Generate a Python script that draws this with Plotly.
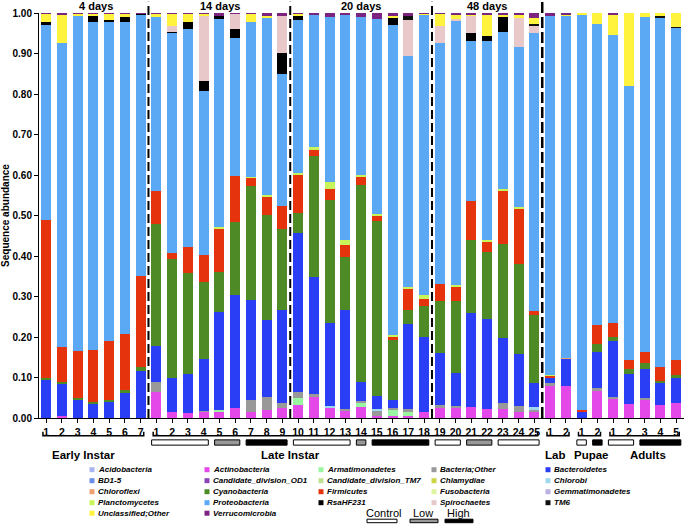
import plotly.graph_objects as go

# sample labels (41 bars): early instar 1-7, late instar 1-25, lab 1-2, pupae 1-2, adults 1-5
tick_labels = [str(i) for i in range(1, 8)] + [str(i) for i in range(1, 26)] + \
    ['1', '2', '1', '2'] + [str(i) for i in range(1, 6)]

# segment sizes per phylum
actino = [0, 0.004, 0, 0, 0, 0, 0,
          0.063, 0.014, 0.012, 0.016, 0.016, 0.025, 0.014, 0.02, 0.025,
          0.033, 0.052, 0.027, 0.019, 0.027, 0.004, 0.004, 0.005, 0.016,
          0.025, 0.025, 0.027, 0.022, 0.022, 0.016, 0.016,
          0.08, 0.08, 0, 0.067, 0.049, 0.035, 0.045, 0.033, 0.037]
armat = [0, 0, 0, 0, 0, 0, 0,
         0, 0, 0, 0, 0.005, 0, 0, 0, 0,
         0.016, 0, 0, 0, 0.011, 0, 0.016, 0.011, 0,
         0, 0, 0, 0, 0, 0, 0,
         0, 0, 0, 0, 0, 0, 0, 0, 0]
bac_other = [0, 0, 0, 0, 0, 0, 0,
             0.025, 0, 0, 0.002, 0, 0, 0.031, 0.031, 0.012,
             0.014, 0.008, 0, 0.003, 0.003, 0.015, 0.005, 0.006, 0,
             0.006, 0.004, 0, 0, 0.015, 0.014, 0.006,
             0.006, 0, 0, 0.007, 0.004, 0, 0.004, 0, 0]
chlorobi = [0, 0, 0, 0, 0, 0, 0,
            0, 0, 0, 0, 0, 0, 0, 0, 0,
            0, 0, 0.003, 0, 0, 0.004, 0, 0, 0,
            0, 0, 0, 0, 0, 0, 0.004,
            0, 0, 0, 0, 0, 0, 0, 0, 0]
bacteroid = [0.095, 0.082, 0.046, 0.037, 0.041, 0.064, 0.116,
             0.091, 0.086, 0.096, 0.128, 0.24, 0.279, 0.247, 0.192, 0.229,
             0.394, 0.288, 0.205, 0.244, 0.049, 0.032, 0.02, 0.211, 0.185,
             0.129, 0.082, 0.232, 0.222, 0.16, 0.129, 0.06,
             0.013, 0.066, 0.016, 0.09, 0.136, 0.074, 0.072, 0.053, 0.062]
cyano = [0.003, 0.004, 0.004, 0.003, 0.004, 0.004, 0.009,
         0.3, 0.293, 0.249, 0.189, 0.099, 0.18, 0.28, 0.258, 0.201,
         0.049, 0.298, 0.304, 0.132, 0.486, 0.432, 0.148, 0.034, 0.076,
         0.128, 0.177, 0.181, 0.166, 0.233, 0.222, 0.169,
         0, 0, 0, 0.019, 0.011, 0.012, 0.015, 0.006, 0.008]
firmic = [0.39, 0.085, 0.116, 0.129, 0.145, 0.139, 0.225,
          0.081, 0.014, 0.065, 0.067, 0.107, 0.113, 0.021, 0.045, 0.057,
          0.095, 0.018, 0.026, 0.03, 0.019, 0.011, 0.008, 0.052, 0.018,
          0.044, 0.037, 0.095, 0.024, 0.131, 0.135, 0.008,
          0.005, 0, 0.004, 0.047, 0.035, 0.021, 0.028, 0.033, 0.037]
chloroflexi = [0] * 33 + [0.003] + [0] * 7
plancto = [0, 0, 0, 0, 0, 0, 0,
           0, 0, 0, 0, 0.004, 0, 0.003, 0.004, 0,
           0.004, 0.004, 0.017, 0.011, 0.005, 0.005, 0.004, 0.004, 0.008,
           0, 0.004, 0, 0.005, 0.004, 0.005, 0,
           0.003, 0, 0, 0, 0, 0, 0, 0, 0]
proteo = [0.483, 0.752, 0.829, 0.809, 0.789, 0.771, 0.646,
          0.43, 0.544, 0.538, 0.406, 0.514, 0.341, 0.383, 0.44, 0.326,
          0.377, 0.326, 0.408, 0.555, 0.389, 0.483, 0.766, 0.57, 0.693,
          0.595, 0.652, 0.395, 0.493, 0.388, 0.395, 0.688,
          0.886, 0.845, 0.974, 0.744, 0.711, 0.678, 0.826, 0.865, 0.819]
rsa = [0.006, 0, 0, 0.014, 0.004, 0.012, 0.002,
       0, 0.003, 0.017, 0.023, 0.008, 0.022, 0, 0, 0.051,
       0.013, 0, 0, 0, 0, 0, 0.017, 0, 0,
       0, 0, 0.021, 0.01, 0.039, 0, 0,
       0, 0, 0, 0, 0, 0, 0, 0, 0]
spiro = [0, 0, 0, 0, 0, 0, 0,
         0, 0.015, 0, 0.161, 0, 0.038, 0, 0, 0.091,
         0, 0, 0, 0, 0, 0, 0, 0.089, 0,
         0.042, 0.004, 0.042, 0, 0, 0.074, 0.018,
         0, 0, 0, 0, 0, 0, 0, 0, 0]
tm6 = [0, 0, 0, 0, 0, 0, 0,
       0, 0, 0, 0, 0, 0, 0, 0, 0,
       0, 0, 0, 0, 0, 0, 0, 0.011, 0,
       0, 0, 0, 0, 0, 0, 0.003,
       0, 0, 0, 0, 0, 0, 0, 0.003, 0.003]
unclass = [0.021, 0.068, 0.003, 0.006, 0.015, 0.008, 0,
           0.008, 0.029, 0.021, 0.006, 0, 0, 0.019, 0.003, 0,
           0.003, 0, 0, 0, 0, 0, 0.004, 0, 0.003,
           0.029, 0.01, 0.004, 0.052, 0.002, 0.004, 0.016,
           0, 0.002, 0.006, 0.026, 0.05, 0.18, 0.01, 0.007, 0.034]
verruco = [0.002, 0.005, 0.002, 0.002, 0.002, 0.002, 0.002,
           0.002, 0.002, 0.002, 0.002, 0.007, 0.002, 0.002, 0.007, 0.008,
           0.002, 0.006, 0.01, 0.006, 0.011, 0.014, 0.008, 0.007, 0.001,
           0.002, 0.005, 0.003, 0.006, 0.006, 0.006, 0.012,
           0.007, 0.004, 0, 0, 0.004, 0, 0, 0, 0]

colors = {
    'Acidobacteria': '#aab4f0', 'Actinobacteria': '#e548e8', 'Armatimonadetes': '#99f5a0',
    'Bacteria;Other': '#999999', 'Bacteroidetes': '#2a3ef5', 'BD1-5': '#6a8ee8',
    'Candidate_division_OD1': '#8b45b5', 'Candidate_division_TM7': '#bfe090',
    'Chlamydiae': '#ccd44a', 'Chlorobi': '#9ed8ee', 'Chloroflexi': '#eda070',
    'Cyanobacteria': '#4e8b27', 'Firmicutes': '#e5330e', 'Fusobacteria': '#e0f5a0',
    'Gemmatimonadetes': '#bbb0e0', 'Planctomycetes': '#c8f55a', 'Proteobacteria': '#5ba9f5',
    'RsaHF231': '#000000', 'Spirochaetes': '#e8c8c8', 'TM6': '#111111',
    'Unclassified;Other': '#fff33d', 'Verrucomicrobia': '#7b2580',
}

# stacking order, bottom to top
stack = [('Actinobacteria', actino), ('Armatimonadetes', armat), ('Bacteria;Other', bac_other),
         ('Chlorobi', chlorobi), ('Bacteroidetes', bacteroid), ('Cyanobacteria', cyano),
         ('Firmicutes', firmic), ('Chloroflexi', chloroflexi), ('Planctomycetes', plancto),
         ('Proteobacteria', proteo), ('RsaHF231', rsa), ('Spirochaetes', spiro), ('TM6', tm6),
         ('Unclassified;Other', unclass), ('Verrucomicrobia', verruco)]

legend_names = ['Acidobacteria', 'Actinobacteria', 'Armatimonadetes', 'Bacteria;Other', 'Bacteroidetes',
                'BD1-5', 'Candidate_division_OD1', 'Candidate_division_TM7', 'Chlamydiae', 'Chlorobi',
                'Chloroflexi', 'Cyanobacteria', 'Firmicutes', 'Fusobacteria', 'Gemmatimonadetes',
                'Planctomycetes', 'Proteobacteria', 'RsaHF231', 'Spirochaetes', 'TM6',
                'Unclassified;Other', 'Verrucomicrobia']

day_labels = ['4 days', '14 days', '20 days', '48 days']
day_x = [3.2, 11.05, 20.0, 28.0]
group_labels = ['Early Instar', 'Late Instar', 'Lab', 'Pupae', 'Adults']
group_x = [2.4, 15.5, 32.3, 34.6, 38.2]
brackets = [(0, 6), (7, 31), (32, 33), (34, 35), (36, 40)]
# treatment bars: (first bar, last bar, kind)
treat = [(7, 10, 'c'), (11, 12, 'l'), (13, 15, 'h'), (16, 19, 'c'), (20, 20, 'l'), (21, 24, 'h'),
         (25, 26, 'c'), (27, 28, 'l'), (29, 31, 'c'), (34, 34, 'c'), (35, 35, 'h'),
         (36, 37, 'c'), (38, 40, 'h')]
separators = [6.5, 15.5, 24.5, 31.5]

FONT = 'Arial, Liberation Sans, sans-serif'
xs = list(range(len(tick_labels)))

fig = go.Figure()
for name, vals in stack:
    fig.add_trace(go.Bar(x=xs, y=vals, name=name, width=0.63,
                         marker=dict(color=colors[name], line=dict(width=0)),
                         showlegend=False))

fig.update_layout(
    width=685, height=524, barmode='stack',
    margin=dict(l=39, r=1, t=13, b=106),
    plot_bgcolor='white', paper_bgcolor='white',
    font=dict(family=FONT, color='black'),
)
fig.update_xaxes(range=[-0.45, 40.5], tickvals=xs, ticktext=tick_labels,
                 showline=True, linecolor='black', linewidth=1, ticks='outside',
                 ticklen=4, tickcolor='black', showgrid=False, zeroline=False,
                 tickfont=dict(size=10.5, family=FONT, weight='bold'))
fig.update_yaxes(range=[0, 1.0], tickvals=[i / 10 for i in range(11)], tickformat='.2f',
                 showline=True, linecolor='black', linewidth=1, ticks='outside',
                 ticklen=4, tickcolor='black', showgrid=False, zeroline=False,
                 tickfont=dict(size=10, family=FONT, weight='bold'),
                 title=dict(text='<b>Sequence abundance</b>', font=dict(size=10), standoff=6))

# dashed separators between age groups
for i, sx in enumerate(separators):
    last = i == len(separators) - 1
    fig.add_shape(type='line', xref='x', yref='paper', x0=sx, x1=sx, y0=0, y1=1.028,
                  line=dict(color='black', width=2.5 if last else 2,
                            dash='11px,4px' if last else '9px,4px'))

for t, x in zip(day_labels, day_x):
    fig.add_annotation(x=x, y=1.0, xref='x', yref='paper', yanchor='bottom', text='<b>%s</b>' % t,
                       showarrow=False, font=dict(size=11), borderpad=0)

# brackets under tick labels
yb, yt = -0.0437, -0.034
for a, b in brackets:
    fig.add_shape(type='path', xref='x', yref='paper',
                  path='M %f,%f L %f,%f L %f,%f L %f,%f' % (a - 0.2, yt, a - 0.2, yb, b + 0.2, yb, b + 0.2, yt),
                  line=dict(color='black', width=1.5))

fill = {'c': 'white', 'l': '#999999', 'h': 'black'}
for a, b, k in treat:
    fig.add_shape(type='rect', xref='x', yref='paper', x0=a - 0.3, x1=b + 0.3,
                  y0=-0.067, y1=-0.054, fillcolor=fill[k], line=dict(color='black', width=1))

for t, x in zip(group_labels, group_x):
    fig.add_annotation(x=x, y=(418.3 - 455) / 405, xref='x', yref='paper', yanchor='middle',
                       text='<b>%s</b>' % t, showarrow=False, font=dict(size=11.5), borderpad=0)

# legend in 5 columns, row-major
col_px = [92, 207, 321, 434, 548]
row_py = [470, 481, 492, 503, 513.5]
for n, name in enumerate(legend_names):
    r, c = divmod(n, 5)
    px, py = col_px[c], row_py[r]
    xp = (px - 39) / 645
    yp = (418.3 - py) / 405
    fig.add_shape(type='rect', xref='paper', yref='paper',
                  x0=xp - 2.5 / 645, x1=xp + 2.5 / 645, y0=yp - 2.5 / 405, y1=yp + 2.5 / 405,
                  fillcolor=colors[name], line=dict(width=0))
    fig.add_annotation(x=xp + 5 / 645, y=yp, xref='paper', yref='paper', xanchor='left',
                       yanchor='middle', text='<b><i>%s</i></b>' % name, showarrow=False,
                       font=dict(size=8), borderpad=0)

# treatment key
key = [('Control', 383, 367, 397, 'c'), ('Low', 423, 410, 438, 'l'), ('High', 458, 445, 473, 'h')]
for t, cx, x0, x1, k in key:
    fig.add_annotation(x=(cx - 39) / 645, y=(418.3 - 513) / 405, xref='paper', yref='paper',
                       xanchor='center', yanchor='middle', text=t, showarrow=False,
                       font=dict(size=11), borderpad=0)
    fig.add_shape(type='rect', xref='paper', yref='paper', x0=(x0 - 39) / 645, x1=(x1 - 39) / 645,
                  y0=(418.3 - 523) / 405, y1=(418.3 - 519.5) / 405,
                  fillcolor=fill[k], line=dict(color='black', width=1))

fig.write_html('out.html', config={'displayModeBar': False},
               post_script="document.body.style.margin='0';")
